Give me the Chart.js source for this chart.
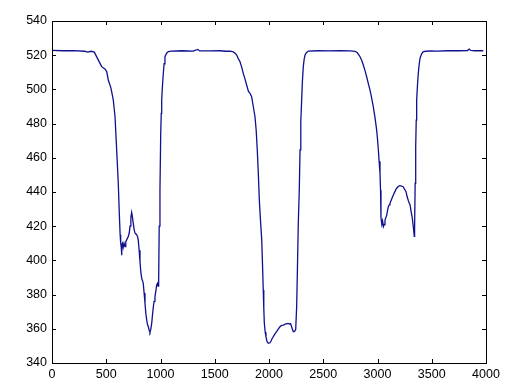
<!DOCTYPE html>
<html>
<head>
<meta charset="utf-8">
<script src="https://cdn.jsdelivr.net/npm/chart.js@4.4.1/dist/chart.umd.min.js"></script>
<style>
  html, body { margin: 0; padding: 0; background: #fff; }
  canvas { display: block; }
</style>
</head>
<body>
<canvas id="signalChart" width="514" height="388"></canvas>
<script>
const sampleX = [
  0, 100, 200, 300, 330, 360, 390, 412, 440, 458, 475, 488, 504, 519, 544, 565, 581, 596, 611, 620,
  628, 633, 638, 641, 645, 650, 656, 664, 673, 680, 688, 703, 712, 719, 727, 734, 740, 749, 757, 765,
  772, 780, 788, 795, 803, 811, 819, 827, 835, 841, 849, 857, 865, 873, 880, 888, 896, 903, 910, 919,
  926, 934, 941, 949, 957, 965, 972, 978, 983, 988, 995, 1002, 1007, 1011, 1018, 1026, 1033, 1041, 1056, 1072,
  1100, 1200, 1300, 1345, 1360, 1450, 1550, 1600, 1640, 1671, 1690, 1702, 1717, 1733, 1748, 1763, 1779, 1794, 1810, 1825,
  1840, 1855, 1871, 1882, 1892, 1902, 1911, 1920, 1933, 1940, 1947, 1952, 1957, 1965, 1972, 1982, 1994, 2009, 2020, 2030,
  2040, 2055, 2070, 2085, 2101, 2116, 2132, 2150, 2165, 2178, 2190, 2199, 2212, 2224, 2235, 2246, 2255, 2262, 2270, 2279,
  2286, 2293, 2301, 2308, 2316, 2324, 2332, 2345, 2362, 2450, 2550, 2650, 2750, 2793, 2815, 2839, 2854, 2869, 2885, 2900,
  2915, 2931, 2946, 2961, 2977, 2992, 3000, 3008, 3015, 3023, 3028, 3032, 3040, 3047, 3054, 3062, 3069, 3077, 3085, 3092,
  3100, 3108, 3115, 3128, 3140, 3155, 3170, 3177, 3190, 3207, 3222, 3238, 3250, 3263, 3272, 3284, 3292, 3300, 3310, 3321,
  3330, 3336, 3339, 3342, 3347, 3352, 3357, 3361, 3368, 3376, 3384, 3392, 3407, 3422, 3450, 3484, 3550, 3650, 3750, 3830,
  3845, 3860, 3900, 3975
];
const sampleY = [
  522.8, 522.6, 522.7, 522.3, 521.8, 522.3, 521.8, 519, 515.5, 513.3, 512.5, 512, 510.4, 505.5, 500.6, 493.8, 484, 464.6, 445, 428,
  415, 410, 408, 403, 409, 410, 407.5, 410, 408, 411, 412, 414, 416, 420, 425, 428, 426, 421.7, 418, 416,
  415.5, 415, 414, 412, 406, 399.2, 393, 389.5, 388, 386.6, 381, 374.9, 369, 365.1, 362.5, 361.2, 359, 358, 359.5, 363.2,
  368, 372.9, 376, 378.8, 382, 385.6, 386.5, 385, 388, 420, 441, 474, 486, 493.8, 502, 509.4, 515, 519.1, 521.2, 522.1,
  522.4, 522.6, 522.4, 523.4, 522.5, 522.5, 522.6, 522.3, 522.4, 522, 521, 520.1, 518, 516.2, 513, 509.4, 506, 502.6, 499, 497.7,
  495.7, 490, 484, 476, 464.6, 450, 435, 425, 412, 398, 382.7, 372, 363.2, 358, 355.4, 352.5, 351.5, 351.8, 353, 354.5,
  355.4, 357, 358.3, 359.8, 361.2, 362, 362.2, 362.7, 363, 363.2, 362.7, 363, 360.5, 358.3, 358.5, 359.5, 373, 395, 421.7, 441,
  464.6, 481, 493.8, 505, 513.3, 517.5, 520.1, 521.5, 522.4, 522.6, 522.5, 522.7, 522.5, 522.3, 521.4, 519.1, 517, 514.3, 511, 507.4,
  503.5, 499.6, 495, 489.9, 483.5, 476.3, 471, 464.6, 458, 450.9, 441, 425, 421, 423, 419.7, 421, 423.6, 425, 426.5, 429,
  431.4, 432.5, 433.4, 435.5, 437.3, 439.5, 441.5, 442.2, 443.2, 443.7, 443.5, 443, 441.5, 440.2, 437.5, 435, 433.6, 432.4, 428.5, 424.6,
  419.7, 416, 414, 419, 445, 466.5, 482, 493.8, 502, 509.4, 514.5, 518.2, 520.8, 522.1, 522.3, 522.5, 522.4, 522.6, 522.6, 522.7,
  523.6, 522.8, 522.6, 522.6
];

const xTicks = [0, 500, 1000, 1500, 2000, 2500, 3000, 3500, 4000];
const yTicks = [340, 360, 380, 400, 420, 440, 460, 480, 500, 520, 540];

const points = sampleX.map((x, i) => ({ x: x, y: sampleY[i] }));

// MATLAB-style box with inward tick marks on all four sides
const boxTicks = {
  id: "boxTicks",
  afterDraw(chart) {
    const ctx = chart.ctx;
    const area = chart.chartArea;
    const xs = chart.scales.x;
    const ys = chart.scales.y;
    const len = 4;
    ctx.save();
    ctx.strokeStyle = "#000";
    ctx.lineWidth = 1;
    ctx.beginPath();
    xTicks.forEach(v => {
      const px = Math.round(xs.getPixelForValue(v)) + 0.5;
      ctx.moveTo(px, area.bottom);
      ctx.lineTo(px, area.bottom - len);
      ctx.moveTo(px, area.top);
      ctx.lineTo(px, area.top + len);
    });
    yTicks.forEach(v => {
      const py = Math.round(ys.getPixelForValue(v)) + 0.5;
      ctx.moveTo(area.left, py);
      ctx.lineTo(area.left + len, py);
      ctx.moveTo(area.right, py);
      ctx.lineTo(area.right - len, py);
    });
    ctx.stroke();
    ctx.strokeRect(Math.round(area.left) + 0.5, Math.round(area.top) + 0.5,
      Math.round(area.right - area.left), Math.round(area.bottom - area.top));
    ctx.restore();
  }
};

const tickFont = { family: "'Liberation Sans', Arial, sans-serif", size: 12.5 };

new Chart(document.getElementById("signalChart"), {
  type: "line",
  data: {
    datasets: [{
      data: points,
      borderColor: "#10108f",
      borderWidth: 1.3,
      pointRadius: 0,
      tension: 0,
      fill: false
    }]
  },
  options: {
    responsive: false,
    animation: false,
    devicePixelRatio: 1,
    layout: { padding: { left: 0, top: 21, right: 28, bottom: 0 } },
    plugins: { legend: { display: false }, tooltip: { enabled: false } },
    scales: {
      x: {
        type: "linear",
        min: 0,
        max: 4000,
        grid: { display: false, drawTicks: false },
        border: { display: false },
        afterFit: scale => { scale.height = 25; },
        afterBuildTicks: scale => { scale.ticks = xTicks.map(v => ({ value: v })); },
        ticks: { color: "#000", font: tickFont, padding: 4, maxRotation: 0, autoSkip: false,
          callback: v => String(v) }
      },
      y: {
        min: 340,
        max: 540,
        grid: { display: false, drawTicks: false },
        border: { display: false },
        afterFit: scale => { scale.width = 52; },
        afterBuildTicks: scale => { scale.ticks = yTicks.map(v => ({ value: v })); },
        ticks: { color: "#000", font: tickFont, padding: 5, autoSkip: false,
          callback: v => String(v) }
      }
    }
  },
  plugins: [boxTicks]
});
</script>
</body>
</html>
